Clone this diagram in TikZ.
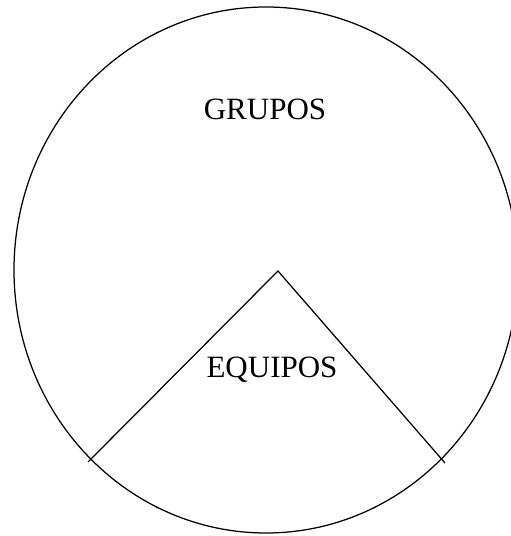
\documentclass[tikz,border=0pt]{standalone}
\usepackage{fontspec}
\setmainfont{Liberation Serif}
\usetikzlibrary{positioning}

\begin{document}
\begin{tikzpicture}[x=1pt,y=1pt,line width=1.25pt,
  label text/.style={font=\fontsize{31}{36}\selectfont, anchor=base}]
  % whole circle = groups, wedge = teams
  \def\Rx{252}
  \def\Ry{263}
  \useasboundingbox (0,0) rectangle (511,536);
  \clip (0,0) rectangle (511,536);
  \draw (266,266) ellipse ({\Rx} and {\Ry});
  \coordinate (apex) at (278,265);
  \coordinate (leftEnd) at (88,74);
  \coordinate (rightEnd) at (445,73);
  \draw (leftEnd) -- (apex) -- (rightEnd);
  \node[label text] (grupos) at (265,416) {GRUPOS};
  \node[label text] (equipos) at (272,158) {EQUIPOS};
\end{tikzpicture}
\end{document}
